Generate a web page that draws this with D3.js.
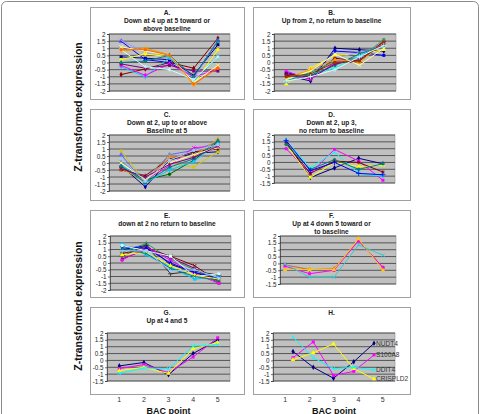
<!DOCTYPE html>
<html>
<head>
<meta charset="utf-8">
<script src="https://cdn.jsdelivr.net/npm/d3@7"></script>
<style>
  html, body { margin: 0; padding: 0; background: #fff; }
  svg { display: block; font-family: Arial, "Liberation Sans", sans-serif; }
</style>
</head>
<body>
<svg id="chart" width="481" height="414"></svg>
<script>
// BAC points (x categories) and y tick sets
const bacPoints = [1, 2, 3, 4, 5];
const ticksWide = [2, 1.5, 1, 0.5, 0, -0.5, -1, -1.5, -2];
const ticksShort = [2, 1.5, 1, 0.5, 0, -0.5, -1, -1.5];

// A. Down at 4 up at 5
const titleA = ['A.', 'Down at 4 up at 5 toward or', 'above baseline'];
const seriesA = [
  [-0.85, -0.45, 0.0, -0.4, 1.7],
  [0.4, 0.3, 0.2, -0.9, 1.25],
  [1.5, 0.2, 0.0, -1.0, 1.55],
  [1.55, 0.7, 0.3, -1.1, 1.6],
  [0.8, 1.0, 0.55, -1.6, -0.3],
  [0.2, 0.6, 0.4, -1.5, 0.9],
  [-0.3, -1.0, 0.35, -1.3, 0.4],
  [-0.2, -0.9, -0.1, -1.0, -0.5],
  [-0.1, -0.4, -0.2, -0.6, -0.6],
  [0.0, 0.1, 0.5, -1.0, 1.5],
  [1.1, 0.8, 0.5, -1.4, -0.2],
  [0.9, -0.3, -0.5, -1.2, 0.4],
  [0.9, 0.9, 0.5, -1.5, -0.4]
];
const colorsA = ['#800000', '#000080', '#0000ff', '#9999ff', '#ff9900', '#ffff00', '#00ccff',
  '#ff00ff', '#800080', '#008080', '#ffff99', '#ccffff', '#ff6600'];

// B. Up from 2
const titleB = ['B.', 'Up from 2, no return to baseline'];
const seriesB = [
  [-0.9, -1.3, 1.0, 0.9, 0.8],
  [-0.7, -1.1, 0.8, 0.7, 0.5],
  [-1.5, -0.4, 0.5, 0.6, 0.9],
  [-1.4, -0.6, 0.3, 0.7, 1.1],
  [-0.6, -1.2, 0.0, 0.4, 1.4],
  [-0.8, -1.0, 0.3, 0.1, 1.5],
  [-1.2, -0.8, -0.4, 0.5, 1.3],
  [-1.0, -0.9, -0.2, 0.6, 1.2],
  [-1.3, -0.7, 0.1, 0.3, 1.6],
  [-1.1, -0.5, 0.2, 0.0, 1.4],
  [-1.2, -0.6, 0.6, -0.2, 1.0],
  [-0.9, -1.1, -0.1, 0.2, 1.3],
  [-1.0, -0.8, 0.0, 0.1, 1.45],
  [-1.3, -1.0, -0.5, 0.4, 1.2]
];
const colorsB = ['#000080', '#0000ff', '#ffff00', '#9999ff', '#ff00ff', '#800000', '#00ffff',
  '#008080', '#339966', '#ff9900', '#ffff99', '#800080', '#993300', '#ccffff'];

// C. Down at 2, up to or above baseline at 5
const titleC = ['C.', 'Down at 2, up to or above', 'Baseline at 5'];
const seriesC = [
  [-0.2, -1.7, 0.2, 0.7, 0.8],
  [0.85, -1.3, 0.0, -0.3, 0.8],
  [0.6, -1.5, 0.6, 0.9, 1.5],
  [-0.3, -1.2, -0.2, 1.1, 1.2],
  [-0.5, -0.9, 0.3, 0.8, 1.0],
  [-0.3, -1.2, -0.8, 0.2, 1.5],
  [-0.4, -1.3, 0.4, 0.5, 1.7],
  [-0.1, -1.4, -0.5, 0.1, 1.4],
  [0.1, -1.1, 0.6, 0.4, 1.3],
  [-0.2, -1.4, -0.3, 0.3, 1.6],
  [0.0, -1.2, 0.0, 0.6, 1.1],
  [-0.4, -1.0, -0.1, 0.4, 1.2],
  [0.3, -1.3, 0.2, 0.9, 1.3]
];
const colorsC = ['#000080', '#cccc00', '#6666ff', '#ff00ff', '#800000', '#006600', '#ff9900',
  '#00ccff', '#969696', '#008080', '#ffff99', '#800080', '#99ccff'];

// D. Down at 2, up 3, no return
const titleD = ['D.', 'Down at 2, up 3,', 'no return to baseline'];
const seriesD = [
  [1.5, -1.1, -0.4, 0.3, -0.1],
  [1.0, -0.8, 0.95, 0.1, -1.3],
  [1.3, -1.1, 0.0, -0.3, -0.2],
  [1.6, -0.4, 0.75, -0.8, -1.0],
  [1.4, -0.8, 0.1, 0.0, -0.7],
  [1.3, -0.5, 0.2, -0.5, -0.1],
  [1.6, -0.6, 0.0, -0.8, -0.9]
];
const colorsD = ['#000080', '#ff00ff', '#ffff00', '#00ffff', '#800000', '#008080', '#0000ff'];

// E. down at 2 no return
const titleE = ['E.', 'down at 2 no return to baseline'];
const seriesE = [
  [1.0, 1.3, -0.1, -0.7, -1.3],
  [1.4, 0.6, -0.3, -1.2, -1.0],
  [0.8, 1.45, 0.3, -0.5, -1.2],
  [0.7, 1.1, 0.5, -0.2, -1.4],
  [0.3, 1.0, 0.4, -0.4, -1.5],
  [0.2, 1.2, 0.2, -0.8, -1.5],
  [0.5, 1.3, -0.8, -0.6, -0.9],
  [1.2, 1.1, 0.0, -0.7, -1.1],
  [1.3, 0.9, 0.5, -1.0, -0.8],
  [0.6, 0.8, -0.2, -0.9, -1.2],
  [1.1, 0.7, -0.4, -1.0, -1.3],
  [0.9, 0.9, -0.6, -0.5, -1.1]
];
const colorsE = ['#000080', '#00ccff', '#339966', '#800000', '#800080', '#ff00ff', '#333333',
  '#0000ff', '#ccffff', '#ffff00', '#008080', '#99ccff'];

// F. Up at 4 down 5
const titleF = ['F.', 'Up at 4 down 5 toward or', 'to baseline'];
const seriesF = [
  [-0.1, -0.45, -0.4, 1.7, -0.3],
  [-0.2, -0.75, -0.5, 1.65, -0.3],
  [-0.45, -0.45, -0.45, 1.8, -0.5],
  [-0.05, -1.0, -1.0, 1.35, 0.6]
];
const colorsF = ['#cc6633', '#ff00ff', '#ffcc00', '#33cccc'];

// G. Up at 4 and 5
const titleG = ['G.', 'Up at 4 and 5'];
const seriesG = [
  [-0.4, -0.15, -1.05, 0.5, 1.5],
  [-0.6, -0.3, -0.9, 0.25, 1.65],
  [-0.75, -0.5, -0.95, 0.85, 1.3],
  [-0.95, -0.55, -0.6, 1.05, 1.15]
];
const colorsG = ['#000080', '#ff00ff', '#ffff00', '#00ffff'];

// H. individual genes
const titleH = ['H.'];
const genesH = ['NUDT4', 'S100A8', 'CRISPLD2', 'DDIT4'];
const seriesH = [
  [0.65, -0.5, -1.3, -0.1, 1.25],
  [0.2, 1.35, -1.1, -0.8, 0.4],
  [0.05, 0.55, 1.2, -0.6, -1.35],
  [1.7, 0.2, -0.6, -0.5, -0.7]
];
const colorsH = ['#000080', '#ff00ff', '#ffff00', '#00ffff'];

// layout: frame boxes and gray plot areas (pixels)
const panels = [
  { title: titleA, series: seriesA, colors: colorsA, ticks: ticksWide,
    frame: [90, 7, 244, 99], plot: [109, 34, 230, 91] },
  { title: titleB, series: seriesB, colors: colorsB, ticks: ticksWide,
    frame: [253, 7, 410, 99], plot: [274, 34, 396, 91] },
  { title: titleC, series: seriesC, colors: colorsC, ticks: ticksWide,
    frame: [90, 109, 244, 200], plot: [109, 135, 230, 191] },
  { title: titleD, series: seriesD, colors: colorsD, ticks: ticksShort,
    frame: [253, 109, 410, 200], plot: [274, 135, 395, 183] },
  { title: titleE, series: seriesE, colors: colorsE, ticks: ticksWide,
    frame: [90, 210, 244, 297], plot: [110, 236, 231, 290] },
  { title: titleF, series: seriesF, colors: colorsF, ticks: ticksShort,
    frame: [253, 210, 410, 297], plot: [280, 236, 396, 284], inset: [5, 13] },
  { title: titleG, series: seriesG, colors: colorsG, ticks: ticksShort,
    frame: [90, 307, 244, 394], plot: [107, 333, 230, 381], xAxis: true },
  { title: titleH, series: seriesH, colors: colorsH, ticks: ticksShort,
    frame: [253, 307, 410, 394], plot: [273, 333, 395, 381], inset: [20, 21],
    xAxis: true, labels: genesH }
];

const markerTypes = [d3.symbolDiamond, d3.symbolSquare, d3.symbolTriangle, d3.symbolTimes,
  d3.symbolAsterisk, d3.symbolCircle, d3.symbolPlus];
const strokeMarkers = new Set([d3.symbolTimes, d3.symbolAsterisk, d3.symbolPlus]);

const svg = d3.select('#chart');

// outer rounded frame
svg.append('rect')
  .attr('x', 1.5).attr('y', 1.5)
  .attr('width', 477).attr('height', 430)
  .attr('rx', 5)
  .attr('fill', 'none')
  .attr('stroke', '#8a8a8a');

// shared y-axis titles
[107, 306].forEach(cy => {
  svg.append('text')
    .attr('transform', `translate(82,${cy}) rotate(-90)`)
    .attr('text-anchor', 'middle')
    .attr('font-size', 10.5)
    .attr('font-weight', 'bold')
    .attr('fill', '#111')
    .text('Z-transformed expression');
});

panels.forEach(drawPanel);

function drawPanel (p) {
  const [fx0, fy0, fx1, fy1] = p.frame;
  const [px0, py0, px1, py1] = p.plot;
  const g = svg.append('g');

  g.append('rect')
    .attr('x', fx0 + 0.5).attr('y', fy0 + 0.5)
    .attr('width', fx1 - fx0).attr('height', fy1 - fy0)
    .attr('fill', '#fff')
    .attr('stroke', '#a0a0a0');

  // title lines
  const cx = (fx0 + fx1) / 2;
  g.selectAll('text.title')
    .data(p.title)
    .enter()
      .append('text')
      .attr('class', 'title')
      .attr('x', cx)
      .attr('y', (d, i) => fy0 + 7.5 + i * 8)
      .attr('text-anchor', 'middle')
      .attr('font-size', 6.6)
      .attr('font-weight', 'bold')
      .attr('fill', '#222')
      .text(d => d);

  const y = d3.scaleLinear()
    .domain([d3.min(p.ticks), 2])
    .range([py1, py0]);

  let x;
  if (p.inset) {
    x = d3.scaleLinear().domain([1, 5]).range([px0 + p.inset[0], px1 - p.inset[1]]);
  } else {
    x = d3.scalePoint().domain(bacPoints).range([px0, px1]).padding(0.5);
  }

  g.append('rect')
    .attr('x', px0).attr('y', py0)
    .attr('width', px1 - px0).attr('height', py1 - py0)
    .attr('fill', '#c0c0c0')
    .attr('stroke', '#909090')
    .attr('stroke-width', 0.6);

  g.selectAll('line.grid')
    .data(p.ticks)
    .enter()
      .append('line')
      .attr('class', 'grid')
      .attr('x1', px0).attr('x2', px1)
      .attr('y1', d => y(d)).attr('y2', d => y(d))
      .attr('stroke', '#3a3a3a')
      .attr('stroke-width', 0.8);

  const axis = g.append('g')
    .attr('transform', `translate(${px0},0)`)
    .call(d3.axisLeft(y).tickValues(p.ticks).tickSize(2).tickPadding(1.5)
      .tickFormat(d => String(d)));
  axis.select('.domain').attr('stroke', '#333').attr('stroke-width', 0.7);
  axis.selectAll('.tick line').attr('stroke', '#333').attr('stroke-width', 0.7);
  axis.selectAll('.tick text')
    .attr('font-size', 6.3)
    .attr('font-family', 'Arial, "Liberation Sans", sans-serif')
    .attr('fill', '#222');

  const line = d3.line()
    .x((d, i) => x(bacPoints[i]))
    .y(d => y(d));

  const series = g.append('g');
  p.series.forEach((values, si) => {
    const color = p.colors[si];
    series.append('path')
      .attr('d', line(values))
      .attr('fill', 'none')
      .attr('stroke', color)
      .attr('stroke-width', 1);

    const type = markerTypes[si % markerTypes.length];
    const stroked = strokeMarkers.has(type);
    series.selectAll(null)
      .data(values)
      .enter()
        .append('path')
        .attr('transform', (d, i) => `translate(${x(bacPoints[i])},${y(d)})`)
        .attr('d', d3.symbol(type, stroked ? 10 : 9))
        .attr('fill', stroked ? 'none' : color)
        .attr('stroke', stroked ? color : 'none')
        .attr('stroke-width', 0.8);
  });

  if (p.labels) {
    g.selectAll('text.gene')
      .data(p.labels)
      .enter()
        .append('text')
        .attr('class', 'gene')
        .attr('x', x(5) + 2)
        .attr('y', (d, i) => y(p.series[i][4]) + 2.3)
        .attr('font-size', 6.6)
        .attr('fill', '#333')
        .text(d => d);
  }

  if (p.xAxis) {
    const xc = d3.scalePoint().domain(bacPoints).range([px0, px1]).padding(0.5);
    g.selectAll('text.cat')
      .data(bacPoints)
      .enter()
        .append('text')
        .attr('class', 'cat')
        .attr('x', d => xc(d))
        .attr('y', 402)
        .attr('text-anchor', 'middle')
        .attr('font-size', 7)
        .attr('fill', '#333')
        .text(d => d);
    g.append('text')
      .attr('x', xc(3))
      .attr('y', 413.5)
      .attr('text-anchor', 'middle')
      .attr('font-size', 9)
      .attr('font-weight', 'bold')
      .attr('fill', '#111')
      .text('BAC point');
  }
}
</script>
</body>
</html>
